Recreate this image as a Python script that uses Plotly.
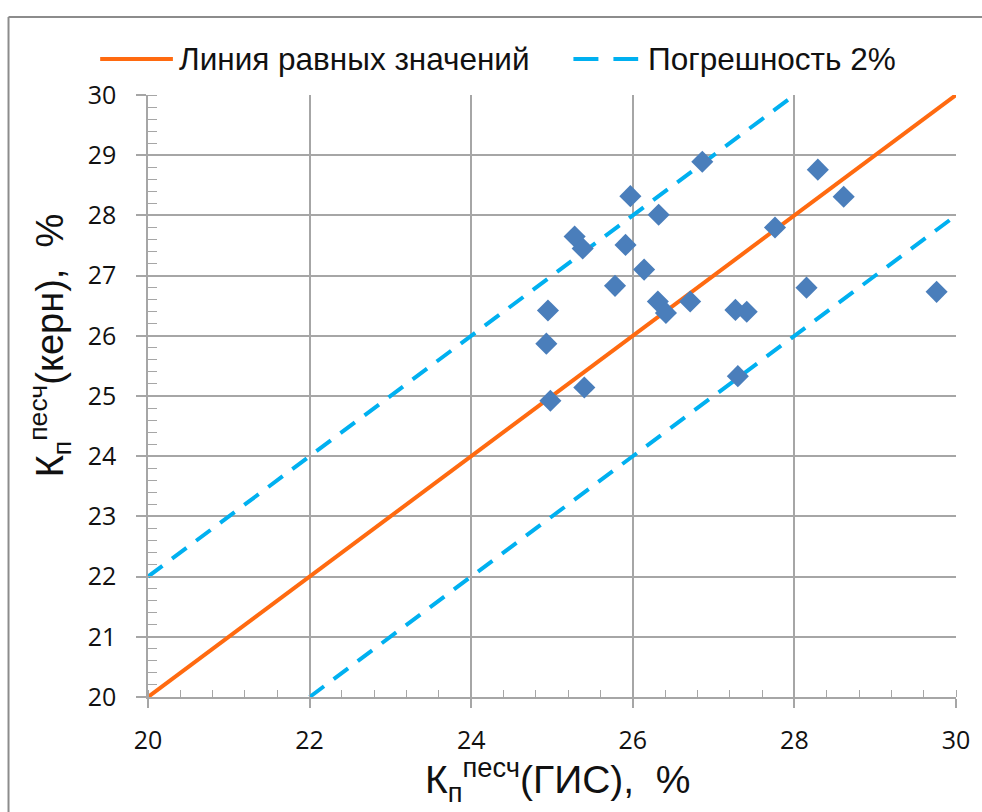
import plotly.graph_objects as go

# Data
x_gis = [24.98, 24.93, 24.95, 25.28, 25.38, 25.40, 25.78, 25.91, 25.97, 26.14,
         26.32, 26.31, 26.41, 26.71, 26.86, 27.27, 27.41, 27.30, 27.76, 28.15,
         28.29, 28.61, 29.76]
y_core = [24.92, 25.87, 26.42, 27.65, 27.45, 25.14, 26.83, 27.51, 28.32, 27.10,
          28.01, 26.57, 26.38, 26.57, 28.89, 26.43, 26.40, 25.33, 27.80, 26.80,
          28.76, 28.31, 26.73]
eq_x = [20, 30]
eq_y = [20, 30]
up_x = [20, 28]
up_y = [22, 30]
lo_x = [22, 30]
lo_y = [20, 28]

legend_names = ["Линия равных значений", "Погрешность 2%"]
x_title = "К<sub>п</sub><sup>песч</sup>(ГИС),  %"
y_title = "К<sub>п</sub><sup>песч</sup>(керн),  %"

ORANGE = "#FF6A10"
CYAN = "#00B0F0"
BLUE = "#4A7EBB"
GRID = "#A6A6A6"

W, H = 982, 812
L, R, T, B = 148, 23, 95, 115
PW = W - L - R
PH = H - T - B


def px(x):
    return (x - L) / PW


def py(y):
    return (H - B - y) / PH


fig = go.Figure()
fig.add_trace(go.Scatter(x=eq_x, y=eq_y, mode="lines", name=legend_names[0],
                         line=dict(color=ORANGE, width=4), showlegend=False))
fig.add_trace(go.Scatter(x=up_x, y=up_y, mode="lines", name=legend_names[1],
                         line=dict(color=CYAN, width=4, dash="18px,12px"), showlegend=False))
fig.add_trace(go.Scatter(x=lo_x, y=lo_y, mode="lines", name=legend_names[1],
                         line=dict(color=CYAN, width=4, dash="18px,12px"), showlegend=False))
fig.add_trace(go.Scatter(x=x_gis, y=y_core, mode="markers", name="data",
                         marker=dict(symbol="diamond", size=17, color=BLUE,
                                     line=dict(width=0)), showlegend=False))

tickfont = dict(family="Open Sans, Liberation Sans, Arial", size=25, color="#111111")

fig.update_xaxes(range=[20, 30], tick0=20, dtick=2, showgrid=True, gridcolor=GRID, gridwidth=1.5,
                 showline=True, linecolor=GRID, linewidth=1.5, ticks="outside", ticklen=9,
                 tickcolor=GRID, tickwidth=1.5, tickfont=tickfont, ticklabelstandoff=11,
                 zeroline=False, mirror=False,
                 minor=dict(dtick=0.4, tick0=20, ticks="inside", ticklen=7, tickcolor=GRID,
                            tickwidth=1.2, showgrid=False))
fig.update_yaxes(range=[20, 30], tick0=20, dtick=1, showgrid=True, gridcolor=GRID, gridwidth=1.5,
                 showline=True, linecolor=GRID, linewidth=1.5, ticks="outside", ticklen=10,
                 tickcolor=GRID, tickwidth=1.5, tickfont=tickfont, ticklabelstandoff=15,
                 zeroline=False,
                 minor=dict(dtick=0.2, tick0=20, ticks="inside", ticklen=9, tickcolor=GRID,
                            tickwidth=1.2, showgrid=False))

shapes = [
    # outer frame
    dict(type="line", xref="paper", yref="paper", x0=px(8), x1=px(8), y0=py(17), y1=py(830),
         line=dict(color="#8C8C8C", width=2)),
    dict(type="line", xref="paper", yref="paper", x0=px(8), x1=px(1000), y0=py(17), y1=py(17),
         line=dict(color="#8C8C8C", width=2)),
    # legend samples
    dict(type="line", xref="paper", yref="paper", x0=px(100), x1=px(173), y0=py(59), y1=py(59),
         line=dict(color=ORANGE, width=4)),
    dict(type="line", xref="paper", yref="paper", x0=px(575), x1=px(640), y0=py(59), y1=py(59),
         line=dict(color=CYAN, width=4, dash="25px,15px")),
]

annotations = [
    dict(text=legend_names[0], xref="paper", yref="paper", x=px(177), y=py(59),
         xanchor="left", yanchor="middle", showarrow=False,
         font=dict(family="Liberation Sans, Arial", size=31.5, color="#111111")),
    dict(text=legend_names[1], xref="paper", yref="paper", x=px(648), y=py(59),
         xanchor="left", yanchor="middle", showarrow=False,
         font=dict(family="Liberation Sans, Arial", size=31.5, color="#111111")),
    dict(text=x_title, xref="paper", yref="paper", x=px(560), y=py(780),
         xanchor="center", yanchor="middle", showarrow=False,
         font=dict(family="Liberation Sans, Arial", size=39, color="#111111")),
    dict(text=y_title, xref="paper", yref="paper", x=px(50), y=py(345), textangle=-90,
         xanchor="center", yanchor="middle", showarrow=False,
         font=dict(family="Liberation Sans, Arial", size=38, color="#111111")),
]

fig.update_layout(width=W, height=H, margin=dict(l=L, r=R, t=T, b=B),
                  paper_bgcolor="white", plot_bgcolor="white",
                  shapes=shapes, annotations=annotations, showlegend=False)

fig.write_html("out.html")
